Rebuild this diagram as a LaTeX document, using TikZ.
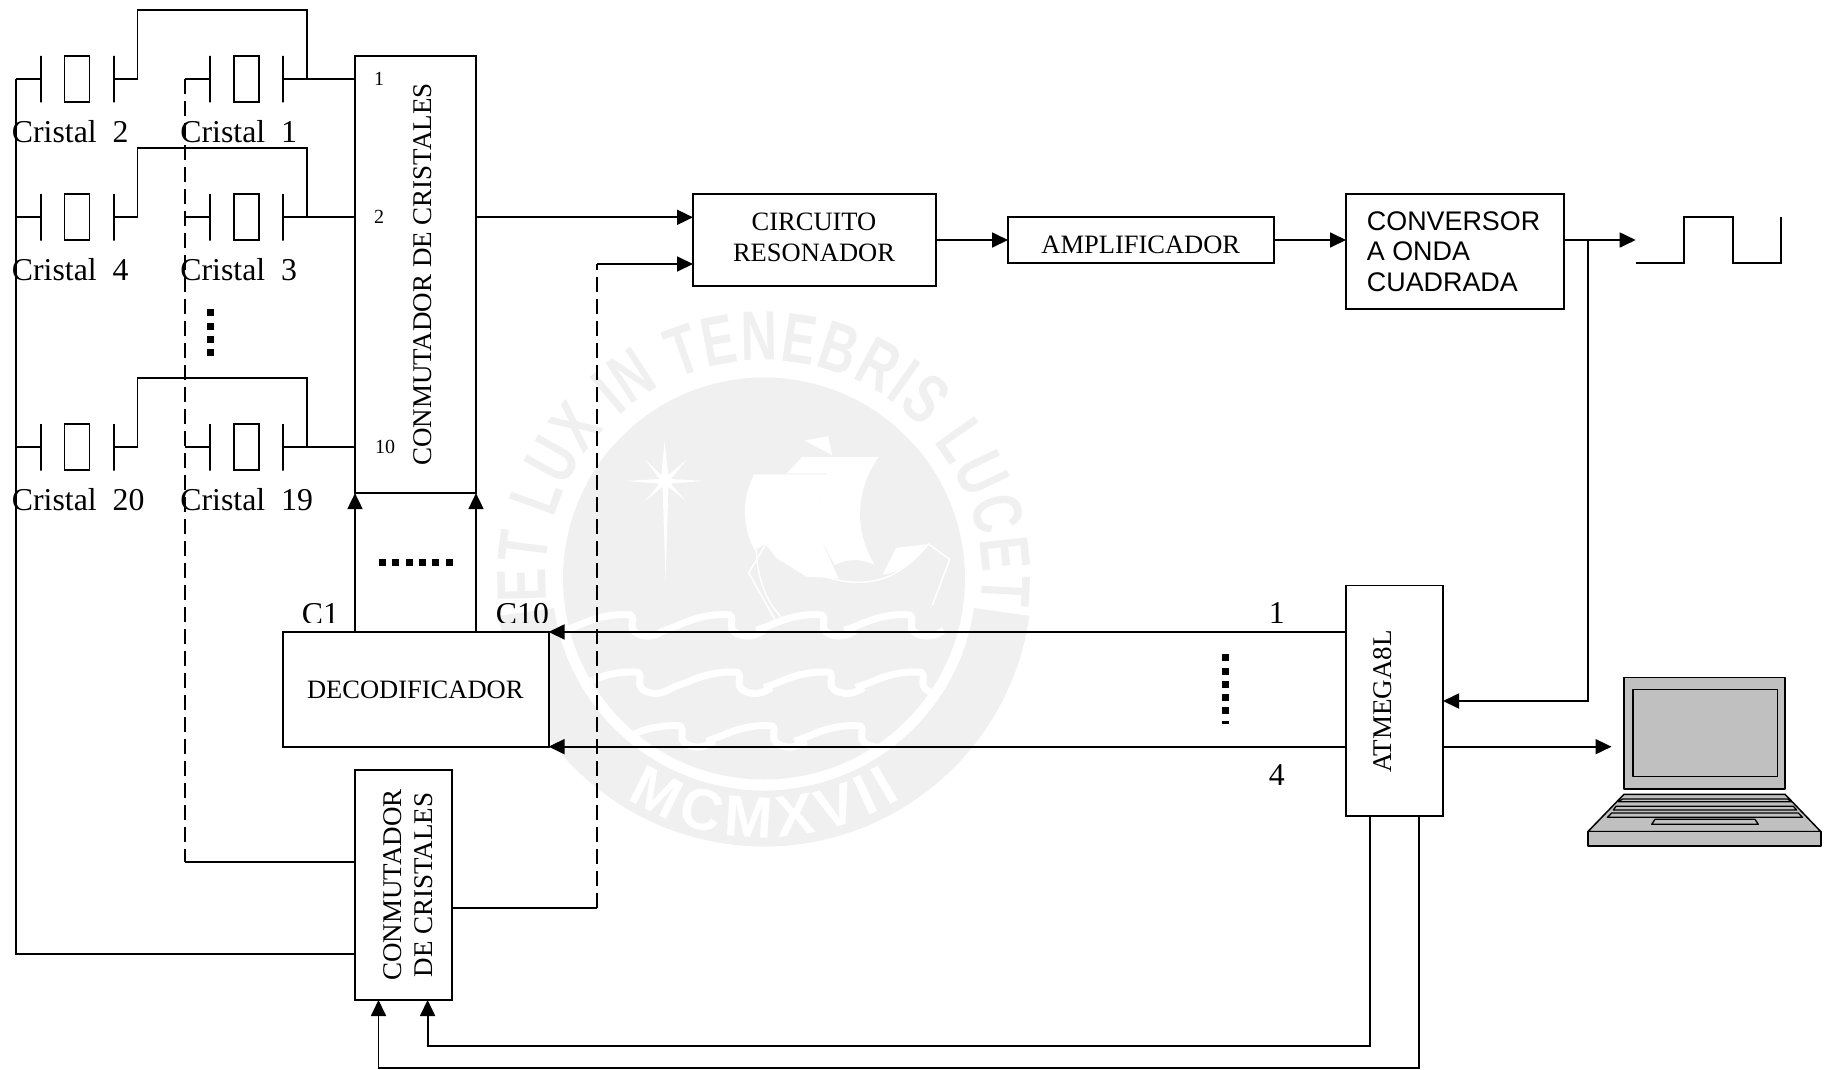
\documentclass[tikz,border=0pt]{standalone}
\usepackage{fontspec}
\setmainfont{Liberation Serif}
\newfontfamily\blockfont{Liberation Sans}
\newfontfamily\sealfont[FakeStretch=0.72]{Liberation Sans}
\usetikzlibrary{arrows.meta,decorations.text}
\definecolor{sealgray}{HTML}{F0F0F0}
\definecolor{lapgray}{HTML}{C0C0C0}
\begin{document}
\begin{tikzpicture}[x=1pt,y=-1pt,line width=1.8pt]
    \tikzset{
        box/.style={draw, fill=white, inner sep=0pt, outer sep=0pt},
        btext/.style={inner sep=0pt, align=center, font=\fontsize{26.5}{31}\selectfont},
        crystal/.style={draw, inner sep=0pt, outer sep=0pt, minimum width=25pt, minimum height=46pt},
        plate/.style={draw, inner sep=0pt, outer sep=0pt, minimum width=0pt, minimum height=46.5pt},
        crlabel/.style={inner sep=0pt, anchor=base west, font=\fontsize{31.8}{32}\selectfont},
        port/.style={inner sep=0pt, font=\fontsize{20}{20}\selectfont},
        vtext/.style={inner sep=0pt, rotate=90, align=center, font=\fontsize{27}{31}\selectfont},
        arw/.style={-{Triangle[length=16pt,width=15pt]}},
        dashwire/.style={dash pattern=on 15pt off 7pt},
        dots/.style={line width=7pt, dash pattern=on 7pt off 6.3pt},
        lap/.style={draw, fill=lapgray, line width=1.5pt, line join=round}
    }
    \useasboundingbox (0,0) rectangle (1832,1069);

    % seal in the background
    \begin{scope}[shift={(764,578.5)},x=1pt,y=1pt]
        \fill[sealgray] (0,0) circle[radius=201];
        \fill[sealgray] (-8:268) arc[start angle=-8,end angle=-172,radius=268] -- (-172:212) arc[start angle=-172,end angle=-8,radius=212] -- cycle;
        \path[decorate,decoration={text along path,text color=sealgray,text align={fit to path},
            text={|\fontsize{70}{70}\selectfont\sealfont\bfseries|ET LUX IN TENEBRIS LUCET}}]
            (186:218) arc[start angle=186,end angle=-7,radius=218];
        \path[decorate,decoration={text along path,text color=white,text align={fit to path},
            text={|\fontsize{58}{58}\selectfont\blockfont\bfseries|MCMXVII}}]
            (238:259) arc[start angle=238,end angle=302,radius=259];
        \clip (0,0) circle[radius=201];
        \begin{scope}[x=0.3827pt,y=-0.3827pt,shift={(-690,-780)}]
            \fill[white] (430,420) -- (440,510) -- (487,470) -- (447,520) -- (533,525) -- (447,532) -- (485,577) -- (440,540) -- (433,790) -- (425,540) -- (380,577) -- (417,532) -- (330,525) -- (417,520) -- (380,470) -- (422,510) -- cycle;
            \fill[white] (665,508) -- (855,508) -- (830,600) -- (840,680) -- (885,780) -- (800,775) -- (720,725) -- (695,690) -- (665,705) .. controls (640,660) and (625,580) .. (665,508) -- cycle;
            \fill[white] (790,462) -- (990,462) .. controls (940,530) and (915,640) .. (980,745) .. controls (940,725) and (900,730) .. (875,745) -- (835,670) -- (830,600) -- (855,505) -- (750,505) -- cycle;
            \fill[white] (795,420) -- (858,408) -- (868,458) -- (850,448) -- cycle;
            \fill[white] (1035,700) -- (1120,690) .. controls (1080,740) and (1040,765) .. (1000,770) -- cycle;
            \draw[white,line width=1.5pt] (650,765) -- (695,690) .. controls (760,750) and (900,815) .. (1000,780) .. controls (1050,765) and (1090,725) .. (1120,690) -- (1175,730) -- (1130,850);
            \draw[white,line width=1.5pt] (650,765) -- (720,890) (670,700) .. controls (670,780) and (700,850) .. (740,885);
            \foreach \yy/\xlist in {870/{170,430,670,900}, 1020/{190,450,690,930}, 1160/{300,540,770}}{
                \foreach \xx in \xlist {
                    \draw[white,line width=7pt] (\xx,\yy+45) .. controls (\xx+50,\yy+30) and (\xx+90,\yy) .. (\xx+170,\yy+5) .. controls (\xx+190,\yy+15) and (\xx+150,\yy+50) .. (\xx+210,\yy+60) .. controls (\xx+230,\yy+62) and (\xx+245,\yy+55) .. (\xx+260,\yy+45);
                }
            }
        \end{scope}
    \end{scope}

    % blocks
    \node[box,minimum width=121pt,minimum height=437pt] (conm) at (415.5,274.6) {};
    \node[box,minimum width=97pt,minimum height=230pt] (conmb) at (403.5,885) {};
    \node[box,minimum width=266pt,minimum height=114.7pt] (deco) at (415.6,689.3) {};
    \node[box,minimum width=243pt,minimum height=92pt] (circ) at (814.5,240) {};
    \node[box,minimum width=265.6pt,minimum height=46pt] (ampl) at (1140.8,240) {};
    \node[box,minimum width=218pt,minimum height=115.3pt] (conv) at (1455,251.6) {};
    \node[box,minimum width=97pt,minimum height=230.2pt] (atm) at (1394.5,700.6) {};

    \node[btext] (decotxt) at (415.3,689.5) {DECODIFICADOR};
    \node[btext] (circtxt) at (814,237) {CIRCUITO\\RESONADOR};
    \node[btext] (ampltxt) at (1140.8,244.5) {AMPLIFICADOR};
    \node[vtext] (conmtxt) at (423,274.6) {CONMUTADOR DE CRISTALES};
    \node[vtext] (conmbtxt) at (408,885) {CONMUTADOR\\DE CRISTALES};
    \node[vtext] (atmtxt) at (1382.5,701.5) {ATMEGA8L};
    \node[inner sep=0pt,anchor=base west,align=left,font=\fontsize{26.9}{30.5}\selectfont\blockfont] (convtxt) at (1366,291) {CONVERSOR\\A ONDA\\CUADRADA};

    \node[port] (p1) at (379,79) {1};
    \node[port] (p2) at (379,217.3) {2};
    \node[port] (p10) at (385,447.3) {10};

    % crystals, two in each row
    \foreach \row/\yy/\tp/\na/\nb in {a/79/10/2/1, b/217.3/148.3/4/3, c/447.3/378.3/20/19}{
        \node[crystal] (xl\row) at (77,\yy) {};
        \node[plate] (pla\row) at (40.7,\yy) {};
        \node[plate] (plb\row) at (113.7,\yy) {};
        \node[crystal] (xr\row) at (246.5,\yy) {};
        \node[plate] (pra\row) at (210,\yy) {};
        \node[plate] (prb\row) at (282.7,\yy) {};
        \node[crlabel] (ll\row) at (11,\yy+63.5) {Cristal\ \ \na};
        \node[crlabel] (lr\row) at (179.5,\yy+63.5) {Cristal\ \ \nb};
        \coordinate (tap\row) at (306.7,\yy);
        \coordinate (low\row) at (137.5,\yy);
        \coordinate (top\row) at (137.5,\tp);
        \draw (prb\row.east) -- (prb\row.east -| conm.west);
        \draw (plb\row.east) -- (low\row) -- (top\row) -| (tap\row);
    }
    \coordinate (rail) at (16,79);
    \coordinate (dashrail) at (185,79);
    \coordinate (inl) at (355,954);
    \coordinate (inr) at (355,862);
    \coordinate (outd) at (452,907.6);
    \coordinate (turnd) at (597,907.6);
    \coordinate (cirb) at (693,264);
    \coordinate (cira) at (693,217.3);
    \foreach \row in {a,b,c}{
        \draw (pla\row.west) -- (pla\row.west -| rail);
        \draw (pra\row.west) -- (pra\row.west -| dashrail);
    }
    \draw (rail) |- (inl);
    \draw[dashwire] (dashrail) -- (dashrail |- inr);
    \draw (dashrail |- inr) -- (inr);
    \draw (outd) -- (turnd);
    \draw[dashwire] (turnd) -- (turnd |- cirb);
    \draw[arw] (turnd |- cirb) -- (cirb);

    % signal chain
    \draw[arw] (cira -| conm.east) -- (cira);
    \draw[arw] (circ.east) -- (ampl.west);
    \draw[arw] (ampl.east) -- (ampl.east -| conv.west);
    \coordinate (sq0) at (1635.7,240);
    \coordinate (jn) at (1587.7,240);
    \coordinate (atmin) at (1443,701);
    \coordinate (lapin) at (1611.5,746.7);
    \draw[arw] (sq0 -| conv.east) -- (sq0);
    \draw[arw] (jn) |- (atmin);
    \draw[arw] (lapin -| atm.east) -- (lapin);
    \draw (1635.7,263.3) -- ++(48.6,0) -- ++(0,-46) -- ++(49,0) -- ++(0,46) -- ++(48,0) -- ++(0,-46);

    % decoder lines
    \draw[arw] (conm.south west |- deco.north) -- (conm.south west);
    \draw[arw] (conm.south east |- deco.north) -- (conm.south east);
    \draw[arw] (deco.north east -| atm.west) -- (deco.north east);
    \draw[arw] (deco.south east -| atm.west) -- (deco.south east);
    \draw[dots] (379,562) -- (452.5,562);
    \draw[dots] (210,309.2) -- (210,355.6);
    \draw[dots] (1225.3,654.2) -- (1225.3,723.6);
    \begin{scope}
        \clip (280,590) rectangle (560,622);
        \node[crlabel] (c1) at (301,624.5) {C1};
        \node[crlabel] (c10) at (495,624.5) {C10};
    \end{scope}
    \node[crlabel] (n1) at (1268,623) {1};
    \node[crlabel] (n4) at (1268,785) {4};

    % lines under the microcontroller
    \coordinate (atma) at (1370,815.7);
    \coordinate (atmb) at (1418.8,815.7);
    \coordinate (turna) at (1370,1046);
    \coordinate (turnb) at (1418.8,1068);
    \coordinate (bsa) at (427.6,1000);
    \coordinate (bsb) at (378.5,1000);
    \draw[arw] (atma) -- (turna) -| (bsa);
    \draw[arw] (atmb) -- (turnb) -| (bsb);

    % laptop
    \draw[lap] (1624,677.3) rectangle (1785,789);
    \draw[lap] (1633.2,689.3) rectangle (1777.4,776.7);
    \draw[lap] (1624,794.3) -- (1785,794.3) -- (1820.9,831.7) -- (1587.8,831.7) -- cycle;
    \draw[lap] (1587.8,831.7) rectangle (1820.9,846);
    \begin{scope}[shift={(1580,785)},x=0.3333pt,y=-0.3333pt]
        \draw[lap,line width=1.3pt] (128,42) -- (622,42) -- (635,50) -- (115,50) -- cycle;
        \draw[lap,line width=1.3pt] (108,64) -- (640,64) -- (650,75) -- (100,75) -- cycle;
        \draw[lap,line width=1.3pt] (95,84) -- (655,84) -- (668,97) -- (82,97) -- cycle;
        \draw[lap,line width=1.3pt] (225,103) -- (525,103) -- (535,118) -- (215,118) -- cycle;
    \end{scope}
\end{tikzpicture}
\end{document}
